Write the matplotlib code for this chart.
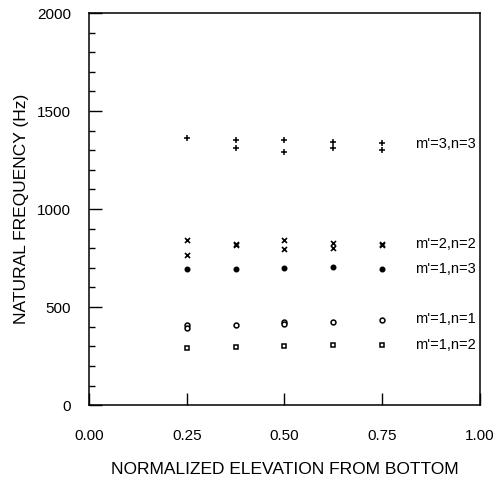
import matplotlib.pyplot as plt
from matplotlib.ticker import MultipleLocator

plt.rcParams['font.family'] = ['Liberation Sans', 'DejaVu Sans']

# elevaciones normalizadas
elev = [0.25, 0.375, 0.5, 0.625, 0.75]

# m'=3,n=3 (dos valores por punto, excepto el primero)
f33_a = [1365, 1353, 1350, 1340, 1336]
f33_b = [None, 1312, 1290, 1311, 1302]
# m'=2,n=2
f22_a = [843, 820, 843, 829, 822]
f22_b = [766, 815, 797, 800, 817]
# m'=1,n=3
f13 = [692, 695, 700, 703, 693]
# m'=1,n=1
f11_a = [408, 410, 422, 424, 436]
f11_b = [393, None, 414, None, None]
# m'=1,n=2
f12 = [292, 297, 303, 307, 309]

labels = ["m'=3,n=3", "m'=2,n=2", "m'=1,n=3", "m'=1,n=1", "m'=1,n=2"]
label_y = [1330, 822, 695, 437, 308]


def pares(xs, ys):
    pts = [(x, y) for x, y in zip(xs, ys) if y is not None]
    return [p[0] for p in pts], [p[1] for p in pts]


fig = plt.figure(figsize=(4.98, 4.84), dpi=100)
ax = fig.add_axes([0.1787, 0.163, 0.785, 0.81])

for serie in (f33_a, f33_b):
    x, y = pares(elev, serie)
    ax.plot(x, y, '+', color='black', markersize=4.5, markeredgewidth=1.1)
for serie in (f22_a, f22_b):
    x, y = pares(elev, serie)
    ax.plot(x, y, 'x', color='black', markersize=3.6, markeredgewidth=1.2)
ax.plot(elev, f13, 'o', color='black', markersize=3.3)
for serie in (f11_a, f11_b):
    x, y = pares(elev, serie)
    ax.plot(x, y, 'o', mfc='white', mec='black', markersize=3.5, markeredgewidth=1.1)
ax.plot(elev, f12, 's', mfc='white', mec='black', markersize=3.3, markeredgewidth=1.1)

for txt, yv in zip(labels, label_y):
    ax.text(0.834, yv, txt, fontsize=10.5, va='center', ha='left')

ax.set_xlim(0, 1)
ax.set_ylim(0, 2000)
ax.set_xticks([0, 0.25, 0.5, 0.75, 1.0])
ax.set_xticklabels(['0.00', '0.25', '0.50', '0.75', '1.00'])
ax.set_yticks([0, 500, 1000, 1500, 2000])
ax.yaxis.set_minor_locator(MultipleLocator(100))
ax.tick_params(axis='y', which='major', direction='in', length=9, width=1, pad=13, labelsize=11)
ax.tick_params(axis='y', which='minor', direction='in', length=4.5, width=1)
ax.tick_params(axis='x', which='major', direction='in', length=9, width=1, pad=17, labelsize=11)
for s in ax.spines.values():
    s.set_linewidth(1.1)

ax.set_xlabel('NORMALIZED ELEVATION FROM BOTTOM', fontsize=12.5, labelpad=14)
ax.set_ylabel('NATURAL FREQUENCY (Hz)', fontsize=12.5, labelpad=6)

plt.savefig('out.png', dpi=100)
